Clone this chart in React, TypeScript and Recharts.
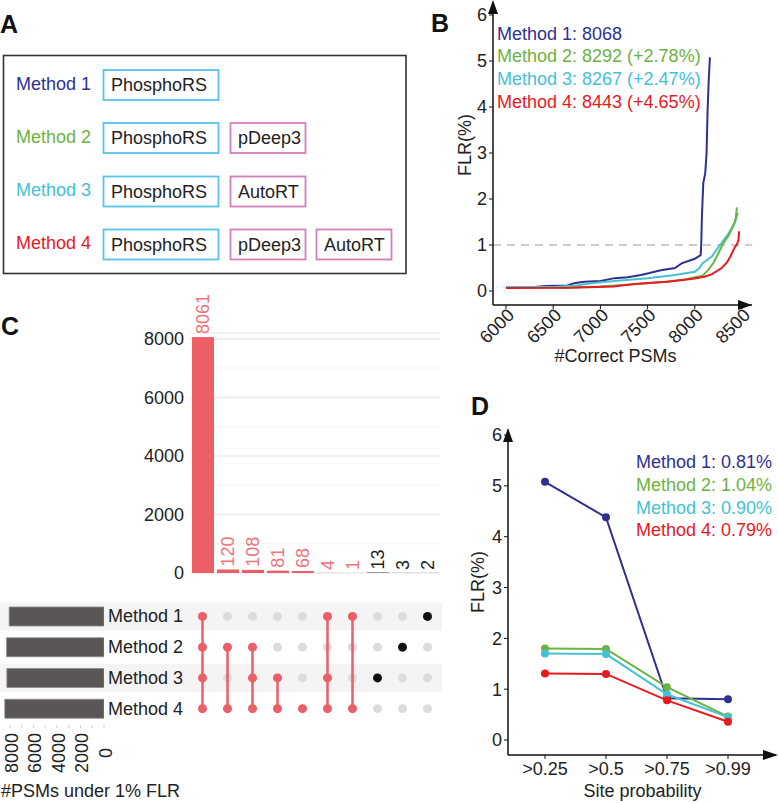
import React from 'react';
import {
  Bar,
  BarChart,
  CartesianGrid,
  LabelList,
  Line,
  LineChart,
  ReferenceArea,
  ReferenceLine,
  Scatter,
  ScatterChart,
  XAxis,
  YAxis,
} from 'recharts';

const FONT = '"Liberation Sans", Arial, Helvetica, sans-serif';
const INK = '#222';
const AXIS = '#111';

const METHODS = ['Method 1', 'Method 2', 'Method 3', 'Method 4'];
const METHOD_COLORS = ['#2e3192', '#6cb33f', '#45c1d3', '#e8191f'];

// A: tools combined in each method
const TOOLS = [
  ['PhosphoRS'],
  ['PhosphoRS', 'pDeep3'],
  ['PhosphoRS', 'AutoRT'],
  ['PhosphoRS', 'pDeep3', 'AutoRT'],
];

// B: FLR vs #correct PSMs
const B_LEGEND = ['Method 1: 8068', 'Method 2: 8292 (+2.78%)', 'Method 3: 8267 (+2.47%)', 'Method 4: 8443 (+4.65%)'];
const B_X_TICKS = [6000, 6500, 7000, 7500, 8000, 8500];
const B_Y_TICKS = [0, 1, 2, 3, 4, 5, 6];
const CURVE_M1 = [
  { x: 6000, y: 0.09 }, { x: 6300, y: 0.09 }, { x: 6420, y: 0.11 }, { x: 6650, y: 0.12 },
  { x: 6720, y: 0.17 }, { x: 6830, y: 0.2 }, { x: 7000, y: 0.22 }, { x: 7150, y: 0.28 },
  { x: 7290, y: 0.3 }, { x: 7430, y: 0.35 }, { x: 7520, y: 0.39 }, { x: 7640, y: 0.45 },
  { x: 7790, y: 0.5 }, { x: 7860, y: 0.6 }, { x: 8000, y: 0.7 }, { x: 8062, y: 0.78 },
  { x: 8068, y: 1.0 }, { x: 8075, y: 1.6 }, { x: 8090, y: 2.35 }, { x: 8110, y: 2.55 },
  { x: 8125, y: 3.0 }, { x: 8135, y: 3.9 }, { x: 8148, y: 4.6 }, { x: 8160, y: 5.08 },
];
const CURVE_M2 = [
  { x: 6550, y: 0.07 }, { x: 7000, y: 0.1 }, { x: 7320, y: 0.14 }, { x: 7680, y: 0.2 },
  { x: 7900, y: 0.25 }, { x: 8000, y: 0.3 }, { x: 8080, y: 0.33 }, { x: 8144, y: 0.46 },
  { x: 8200, y: 0.62 }, { x: 8250, y: 0.82 }, { x: 8292, y: 1.0 }, { x: 8357, y: 1.2 },
  { x: 8410, y: 1.42 }, { x: 8435, y: 1.6 }, { x: 8446, y: 1.82 },
];
const CURVE_M3 = [
  { x: 6000, y: 0.09 }, { x: 6500, y: 0.09 }, { x: 6750, y: 0.12 }, { x: 6900, y: 0.17 },
  { x: 7150, y: 0.22 }, { x: 7500, y: 0.28 }, { x: 7790, y: 0.35 }, { x: 8000, y: 0.42 },
  { x: 8050, y: 0.5 }, { x: 8080, y: 0.6 }, { x: 8180, y: 0.75 }, { x: 8267, y: 1.0 },
  { x: 8357, y: 1.25 }, { x: 8427, y: 1.5 }, { x: 8456, y: 1.7 },
];
const CURVE_M4 = [
  { x: 6000, y: 0.065 }, { x: 6700, y: 0.07 }, { x: 7140, y: 0.1 }, { x: 7360, y: 0.15 },
  { x: 7716, y: 0.2 }, { x: 8000, y: 0.27 }, { x: 8100, y: 0.31 }, { x: 8178, y: 0.36 },
  { x: 8285, y: 0.5 }, { x: 8340, y: 0.62 }, { x: 8374, y: 0.74 }, { x: 8426, y: 0.96 },
  { x: 8443, y: 1.0 }, { x: 8462, y: 1.1 }, { x: 8470, y: 1.3 },
];
const CURVES = [CURVE_M1, CURVE_M3, CURVE_M2, CURVE_M4];
const CURVE_COLORS = [METHOD_COLORS[0], METHOD_COLORS[2], METHOD_COLORS[1], METHOD_COLORS[3]];

// C: upset plot of PSMs under 1% FLR
const INTERSECTION_COUNTS = [8061, 120, 108, 81, 68, 4, 1, 13, 3, 2];
const INTERSECTION_SETS = [[0, 1, 2, 3], [1, 3], [1, 2, 3], [2, 3], [3], [0, 2, 3], [0, 3], [2], [1], [0]];
const SET_SIZES = [8068, 8292, 8267, 8443];
const C_Y_TICKS = [0, 2000, 4000, 6000, 8000];
const C_MINOR_TICKS = [1000, 3000, 5000, 7000];
const SIZE_TICKS = [0, 1000, 2000, 3000, 4000, 5000, 6000, 7000, 8000];

// D: FLR by site probability
const PROB_CATS = ['>0.25', '>0.5', '>0.75', '>0.99'];
const D_M1 = [5.08, 4.38, 0.82, 0.8];
const D_M2 = [1.8, 1.79, 1.04, 0.46];
const D_M3 = [1.7, 1.69, 0.9, 0.45];
const D_M4 = [1.31, 1.3, 0.78, 0.36];
const D_LEGEND = ['Method 1: 0.81%', 'Method 2: 1.04%', 'Method 3: 0.90%', 'Method 4: 0.79%'];

const RED = '#ec5f67';
const RED_LABEL = '#f0727a';

const colColor = (i: number) => (INTERSECTION_SETS[i].includes(3) ? RED : '#111');
const barRows = INTERSECTION_COUNTS.map((count, i) => ({ name: `c${i}`, count }));
const setRows = METHODS.map((name, i) => ({ name, size: SET_SIZES[i] }));
const allCells = INTERSECTION_SETS.flatMap((_, col) => METHODS.map((__, row) => ({ col, row })));
const dRows = PROB_CATS.map((cat, i) => ({ cat, m1: D_M1[i], m2: D_M2[i], m3: D_M3[i], m4: D_M4[i] }));

const tickStyle = { fontSize: 18, fill: INK, fontFamily: FONT };

function BXTick(props: any) {
  const { x, y, payload } = props;
  const ax = x + 5;
  const ay = y + 1;
  return (
    <text x={ax} y={ay} transform={`rotate(-45, ${ax}, ${ay})`} textAnchor="end" dominantBaseline="central" fontSize={18} fill={INK} fontFamily={FONT}>
      {payload.value}
    </text>
  );
}

function SizeTick(props: any) {
  const { x, y, payload } = props;
  const v = payload.value;
  return (
    <g>
      <line x1={x} x2={x} y1={y + 1} y2={y + 4} stroke="#d0d0d0" />
      {v % 2000 === 0 && (
        <text x={x + 2} y={y + 29} transform={`rotate(-90, ${x + 2}, ${y + 29})`} textAnchor="middle" dominantBaseline="central" fontSize={18} fill={INK} fontFamily={FONT}>
          {v}
        </text>
      )}
    </g>
  );
}

function BarLabel(props: any) {
  const { x, y, width, value, index } = props;
  const cx = x + width / 2;
  const cy = y - 3;
  const fill = INTERSECTION_SETS[index]?.includes(3) ? RED_LABEL : INK;
  return (
    <text x={cx} y={cy} transform={`rotate(-90, ${cx}, ${cy})`} textAnchor="start" dominantBaseline="central" fontSize={18} fill={fill} fontFamily={FONT}>
      {value}
    </text>
  );
}

function PanelA() {
  const rowY = [85, 138, 191.5, 244.5];
  const slotX = [103.5, 230.5, 316.5];
  return (
    <g>
      <rect x={3.5} y={55.5} width={402.5} height={218} fill="none" stroke="#333" strokeWidth={1.6} />
      {METHODS.map((m, i) => (
        <g key={m}>
          <text x={16} y={rowY[i] - 1.5} dominantBaseline="central" fontSize={18} fill={METHOD_COLORS[i]}>{m}</text>
          {TOOLS[i].map((t, j) => {
            const w = t === 'PhosphoRS' ? 115 : 75;
            return (
              <g key={t}>
                <rect x={slotX[j]} y={rowY[i] - 15} width={w} height={30} fill="none" stroke={t === 'PhosphoRS' ? '#58c3ec' : '#d47fba'} strokeWidth={1.8} />
                <text x={slotX[j] + 7.5} y={rowY[i]} dominantBaseline="central" fontSize={18} fill={INK}>{t}</text>
              </g>
            );
          })}
        </g>
      ))}
    </g>
  );
}

function Overlay() {
  return (
    <svg width={778} height={803} style={{ position: 'absolute', left: 0, top: 0, pointerEvents: 'none' }} fontFamily={FONT}>
      <PanelA />
      <g fontSize={25} fontWeight="bold" fill="#111">
        <text x={0} y={33}>A</text>
        <text x={431} y={32}>B</text>
        <text x={1} y={335}>C</text>
        <text x={471} y={415}>D</text>
      </g>
      {/* B */}
      {B_LEGEND.map((t, i) => (
        <text key={t} x={497} y={39.5 + 22.7 * i} fontSize={18} fill={METHOD_COLORS[i]}>{t}</text>
      ))}
      <polygon points="493,0 488,14 498,14" fill={AXIS} />
      <polygon points="752,305 738,300 738,310" fill={AXIS} />
      <text x={465} y={145} transform="rotate(-90, 465, 145)" textAnchor="middle" dominantBaseline="central" fontSize={18} fill={INK}>FLR(%)</text>
      <text x={615.5} y={362} textAnchor="middle" fontSize={18} fill={INK}>#Correct PSMs</text>
      {/* C */}
      {METHODS.map((m, i) => (
        <text key={m} x={108} y={616.4 + 30.7 * i} dominantBaseline="central" fontSize={18} fill={INK}>{m}</text>
      ))}
      <text x={1} y={796.5} fontSize={18} fill={INK}>#PSMs under 1% FLR</text>
      {/* D */}
      {D_LEGEND.map((t, i) => (
        <text key={t} x={636} y={468 + 22.8 * i} fontSize={18} fill={METHOD_COLORS[i]}>{t}</text>
      ))}
      <polygon points="508,428 503,442 513,442" fill={AXIS} />
      <polygon points="778,755 763,750 763,760" fill={AXIS} />
      <text x={477.5} y={582} transform="rotate(-90, 477.5, 582)" textAnchor="middle" dominantBaseline="central" fontSize={18} fill={INK}>FLR(%)</text>
      <text x={642.5} y={797} textAnchor="middle" fontSize={18} fill={INK}>Site probability</text>
    </svg>
  );
}

export default function App() {
  return (
    <div style={{ position: 'absolute', left: 0, top: 0, width: 778, height: 803, background: '#fff', fontFamily: FONT, overflow: 'hidden' }}>
      {/* B: FLR curves */}
      <div style={{ position: 'absolute', left: 440, top: 0 }}>
        <LineChart width={338} height={360} margin={{ top: 2, right: 26, bottom: 0, left: 0 }}>
          <XAxis
            type="number"
            dataKey="x"
            domain={[5862, 8606]}
            allowDataOverflow
            ticks={B_X_TICKS}
            interval={0}
            height={55}
            tickSize={4}
            tickMargin={2}
            tick={<BXTick />}
            axisLine={{ stroke: AXIS, strokeWidth: 1.5 }}
            tickLine={{ stroke: AXIS }}
          />
          <YAxis
            type="number"
            dataKey="y"
            domain={[-0.304, 6.283]}
            allowDataOverflow
            ticks={B_Y_TICKS}
            interval={0}
            width={53}
            tickSize={4}
            tickMargin={2}
            tick={tickStyle}
            axisLine={{ stroke: AXIS, strokeWidth: 1.5 }}
            tickLine={{ stroke: AXIS }}
          />
          <ReferenceLine y={1} stroke="#bdbdbd" strokeDasharray="8 6" strokeWidth={1.5} />
          {CURVES.map((c, i) => (
            <Line
              key={i}
              data={c}
              dataKey="y"
              type="linear"
              stroke={CURVE_COLORS[i]}
              strokeWidth={2}
              dot={false}
              isAnimationActive={false}
            />
          ))}
        </LineChart>
      </div>

      {/* C: upset matrix with row shading */}
      <div style={{ position: 'absolute', left: 0, top: 601 }}>
        <ScatterChart width={442} height={123} margin={{ top: 0, right: 0, bottom: 0, left: 0 }}>
          <XAxis type="number" dataKey="col" domain={[-8.1, 9.58]} allowDataOverflow hide />
          <YAxis type="number" dataKey="row" domain={[-0.5, 3.5]} allowDataOverflow reversed hide />
          <ReferenceArea y1={-0.46} y2={0.46} fill="#f4f4f4" fillOpacity={1} stroke="none" />
          <ReferenceArea y1={1.54} y2={2.46} fill="#f4f4f4" fillOpacity={1} stroke="none" />
          <Scatter
            data={allCells}
            isAnimationActive={false}
            shape={(p: any) => <circle cx={p.cx} cy={p.cy} r={4.5} fill="#dcdcdc" />}
          />
          {INTERSECTION_SETS.map((rows, col) => (
            <Scatter
              key={col}
              data={rows.map((row) => ({ col, row }))}
              line={rows.length > 1 ? { stroke: colColor(col), strokeWidth: 2.5 } : false}
              lineType="joint"
              isAnimationActive={false}
              shape={(p: any) => <circle cx={p.cx} cy={p.cy} r={4.5} fill={colColor(col)} />}
            />
          ))}
        </ScatterChart>
      </div>

      {/* C: set sizes */}
      <div style={{ position: 'absolute', left: 0, top: 601 }}>
        <BarChart layout="vertical" data={setRows} width={122} height={183} margin={{ top: 0, right: 18, bottom: 0, left: 0 }} barSize={19}>
          <XAxis
            type="number"
            dataKey="size"
            reversed
            domain={[0, 8851]}
            allowDataOverflow
            ticks={SIZE_TICKS}
            interval={0}
            height={60}
            tickSize={0}
            tickMargin={0}
            tick={<SizeTick />}
            tickLine={false}
            axisLine={false}
          />
          <YAxis type="category" dataKey="name" hide />
          <Bar dataKey="size" fill="#5a5656" stroke="#8d8a8a" strokeWidth={0.8} isAnimationActive={false} />
        </BarChart>
      </div>

      {/* C: intersection sizes */}
      <div style={{ position: 'absolute', left: 100, top: 290 }}>
        <BarChart data={barRows} width={345} height={295} margin={{ top: 43, right: 5, bottom: 12, left: 0 }} barSize={22}>
          <CartesianGrid vertical={false} horizontalValues={C_MINOR_TICKS} stroke="#f3f3f3" strokeWidth={1} />
          <CartesianGrid vertical={false} stroke="#ebebeb" strokeWidth={1.6} />
          <XAxis dataKey="name" hide />
          <YAxis
            type="number"
            domain={[0, 8200]}
            allowDataOverflow
            ticks={C_Y_TICKS}
            interval={0}
            width={90}
            tickSize={0}
            tickMargin={6}
            tick={tickStyle}
            tickLine={false}
            axisLine={false}
          />
          <Bar dataKey="count" isAnimationActive={false} shape={(p: any) => (
            <rect x={p.x} y={p.y} width={p.width} height={Math.max(p.height, 0)} fill={colColor(p.index)} />
          )}>
            <LabelList dataKey="count" content={<BarLabel />} />
          </Bar>
        </BarChart>
      </div>

      {/* D: FLR by site probability */}
      <div style={{ position: 'absolute', left: 440, top: 420 }}>
        <LineChart data={dRows} width={338} height={383} margin={{ top: 10, right: 2, bottom: 23, left: 0 }}>
          <XAxis
            dataKey="cat"
            padding={{ left: 37, right: 48 }}
            interval={0}
            height={25}
            tickSize={4}
            tickMargin={3}
            tick={tickStyle}
            axisLine={{ stroke: AXIS, strokeWidth: 1.5 }}
            tickLine={{ stroke: AXIS }}
          />
          <YAxis
            type="number"
            domain={[-0.295, 6.099]}
            allowDataOverflow
            ticks={B_Y_TICKS}
            interval={0}
            width={68}
            tickSize={4}
            tickMargin={2}
            tick={tickStyle}
            axisLine={{ stroke: AXIS, strokeWidth: 1.5 }}
            tickLine={{ stroke: AXIS }}
          />
          {['m1', 'm2', 'm3', 'm4'].map((k, i) => (
            <Line
              key={k}
              dataKey={k}
              type="linear"
              stroke={METHOD_COLORS[i]}
              strokeWidth={2}
              dot={{ r: 4, fill: METHOD_COLORS[i], stroke: 'none' }}
              isAnimationActive={false}
            />
          ))}
        </LineChart>
      </div>

      <Overlay />
    </div>
  );
}
